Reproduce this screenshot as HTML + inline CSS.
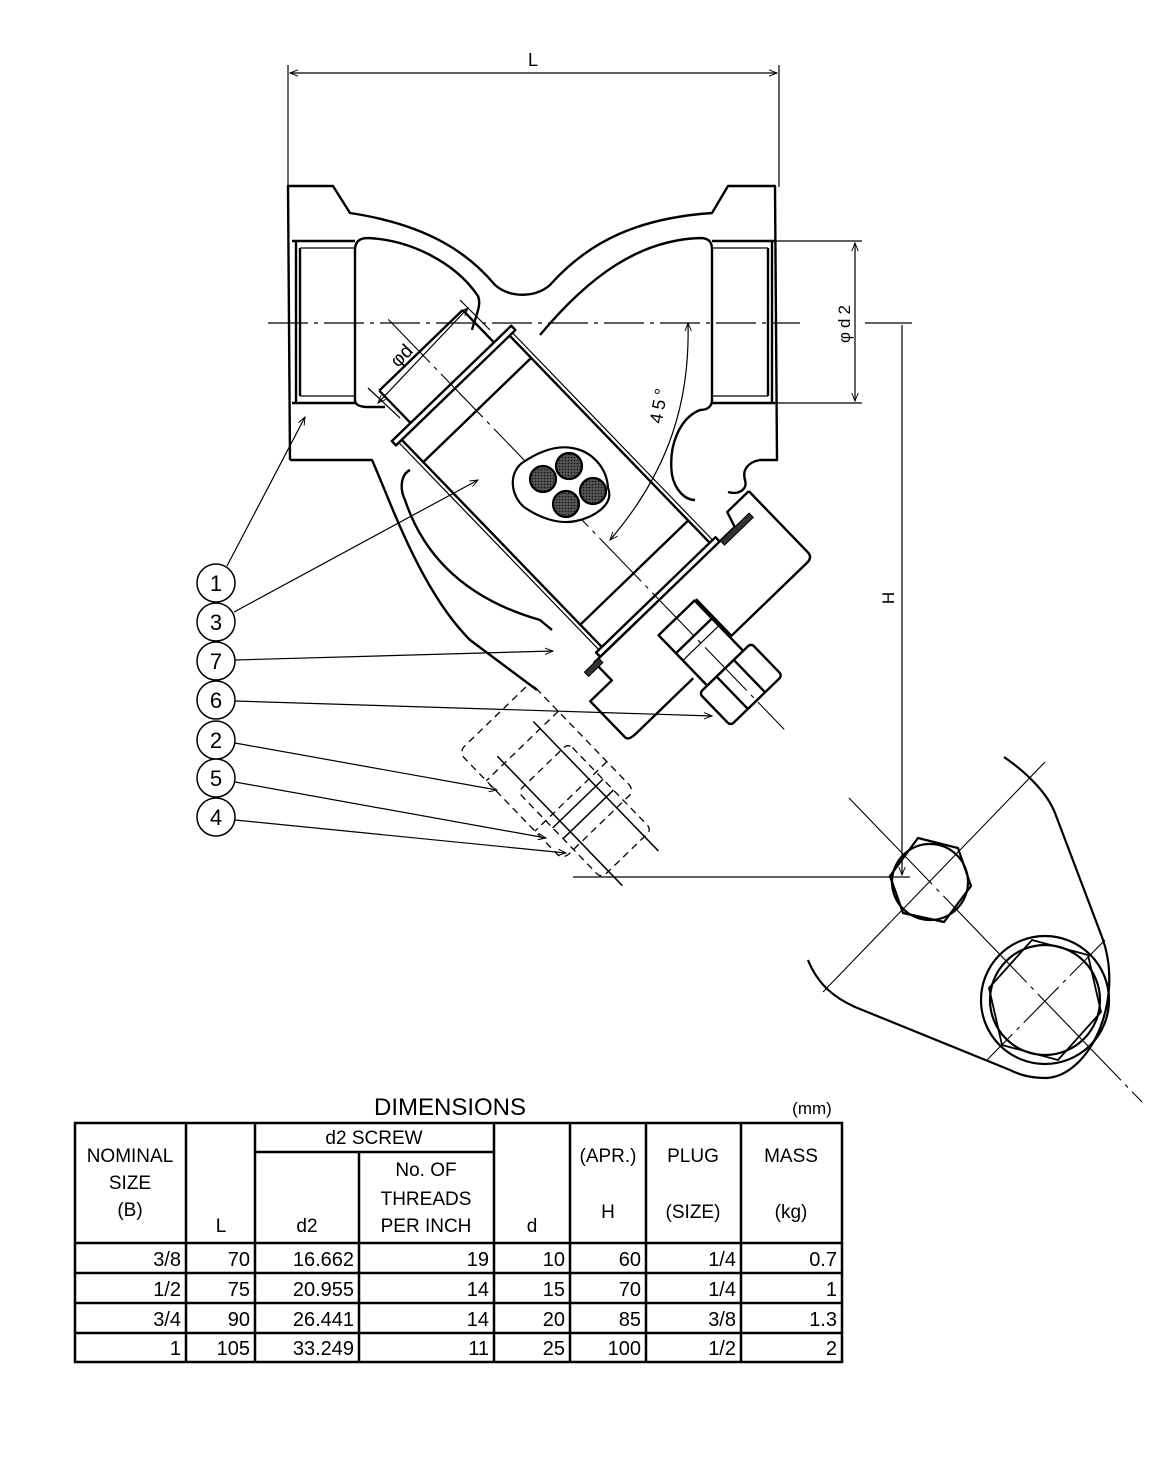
<!DOCTYPE html>
<html><head><meta charset="utf-8"><style>
body{margin:0;background:#fff;}
svg{display:block}
text{font-family:"Liberation Sans",sans-serif;fill:#000}
</style></head><body>
<svg width="1170" height="1484" viewBox="0 0 1170 1484" xmlns="http://www.w3.org/2000/svg">
<defs>
<marker id="a" viewBox="0 0 10 10" refX="10" refY="5" markerWidth="12" markerHeight="8" orient="auto-start-reverse" markerUnits="userSpaceOnUse"><path d="M0,1 L10,5 L0,9" fill="none" stroke="#000" stroke-width="1.2"/></marker>
<pattern id="dots" width="3" height="3" patternUnits="userSpaceOnUse"><rect width="3" height="3" fill="#555"/><circle cx="1.5" cy="1.5" r="0.8" fill="#111"/></pattern>
</defs>
<g fill="none" stroke="#000" stroke-width="1.2">
<line x1="288" y1="65" x2="288" y2="187"/><line x1="779" y1="65" x2="779" y2="187"/>
<line x1="290" y1="73" x2="777" y2="73" marker-start="url(#a)" marker-end="url(#a)"/>
<line x1="712" y1="241" x2="862" y2="241"/><line x1="712" y1="403" x2="862" y2="403"/>
<line x1="855" y1="243" x2="855" y2="401" marker-start="url(#a)" marker-end="url(#a)"/>
<line x1="865" y1="323" x2="912" y2="323"/>
<line x1="902" y1="325" x2="902" y2="875" marker-end="url(#a)"/>
<line x1="573" y1="877" x2="910" y2="877"/>
<line x1="268" y1="323" x2="800" y2="323" stroke-dasharray="40,6,4,6"/>
</g>
<g fill="none" stroke="#000" stroke-width="2.4" stroke-linejoin="round">
<path d="M290,460 L288,186 L333,186 L350,213 C430,225 470,255 495,285 C510,298 535,298 550,285 C590,240 640,218 712,213 L728,186 L775,186 L777,460 L760,460 C748,462 742,470 745,480 C748,490 738,495 728,492"/>
<path d="M290,460 L372,460 C390,500 420,590 470,640 L537,690"/>
<path d="M292,241 L355,241 M292,403 L355,403 M300,248 L300,396 M296,241 L296,403"/>
<path d="M712,241 L775,241 M712,403 L775,403 M768,248 L768,396 M772,241 L772,403"/>
<path d="M300,248 L355,248 M300,396 L355,396 M712,248 L768,248 M712,396 L768,396" stroke-width="1.2"/>
<path d="M472,330 C475,318 482,305 478,296 C455,262 410,240 368,238 C358,238 355,243 355,250 L355,400 C355,405 360,407 368,407 L385,407"/>
<path d="M540,335 C590,275 640,240 700,238 C710,238 712,243 712,250 L712,400 C712,406 708,410 700,410 C680,418 668,445 672,475 C675,490 685,500 695,500"/>
<path d="M410,470 C400,475 400,490 405,500 C425,560 470,600 540,620 L552,630"/>
</g>
<g transform="translate(555,492) rotate(46)" fill="none" stroke="#000" stroke-width="2.4" stroke-linejoin="round">
<rect x="-145" y="-76" width="290" height="150" fill="#fff"/>
<path d="M-195,-60 L-145,-60 M-195,56 L-145,56 M-195,-60 L-195,56"/>
<rect x="-150" y="-84" width="6" height="166" fill="#fff"/>
<rect x="144" y="-84" width="6" height="166" fill="#fff"/>
<line x1="-113" y1="-76" x2="-113" y2="74"/>
<line x1="113" y1="-76" x2="113" y2="74"/>
<line x1="-145" y1="-80" x2="145" y2="-80" stroke-width="1.2"/>
<line x1="-145" y1="78" x2="145" y2="78" stroke-width="1.2"/>
<path d="M134,-140 L219,-140 Q226,-140 226,-132 L226,-27 L175,-27 M134,-140 L134,-110 L150,-105 L150,-84" />
<rect x="150" y="-125" width="6" height="40" fill="#333" stroke-width="1"/>
<path d="M150,30 L150,90 L175,90 L175,120 L225,120 Q230,120 230,110 L230,30"/>
<rect x="150" y="84" width="6" height="20" fill="#333" stroke-width="1"/>
<rect x="175" y="-25" width="70" height="50" fill="#fff"/>
<line x1="200" y1="-25" x2="200" y2="25"/>
<line x1="210" y1="-25" x2="210" y2="25" stroke-width="1.2"/>
<rect x="245" y="-36" width="45" height="72" rx="4" fill="#fff"/>
<line x1="245" y1="-12" x2="290" y2="-12"/><line x1="245" y1="12" x2="290" y2="12"/>
<line x1="-240" y1="0" x2="330" y2="0" stroke-width="1.1" stroke-dasharray="60,6,4,6"/>
<g stroke-width="1.3" stroke-dasharray="7,5">
<rect x="120" y="150" width="150" height="100" rx="8"/>
<rect x="190" y="165" width="120" height="70" rx="6"/>
<line x1="160" y1="150" x2="160" y2="250"/>
<line x1="230" y1="150" x2="230" y2="250"/>
</g>
<g stroke-width="1.5">
<line x1="150" y1="175" x2="330" y2="175"/>
<line x1="150" y1="225" x2="330" y2="225"/>
<line x1="240" y1="165" x2="240" y2="235"/>
<line x1="255" y1="165" x2="255" y2="235"/>
</g>
</g>
<g stroke="#000" stroke-width="2.2">
<path d="M522,463 C538,452 555,445 572,448 C592,451 607,468 608,488 C615,505 592,518 576,521 C558,525 538,517 524,507 C511,496 508,474 522,463 Z" fill="#fff"/>
<circle cx="543" cy="479" r="13" fill="url(#dots)"/>
<circle cx="569" cy="466" r="13" fill="url(#dots)"/>
<circle cx="593" cy="491" r="13" fill="url(#dots)"/>
<circle cx="566" cy="504" r="13" fill="url(#dots)"/>
</g>
<g fill="none" stroke="#000" stroke-width="1.2">
<line x1="460" y1="300" x2="490" y2="330"/>
<line x1="368" y1="388" x2="400" y2="418"/>
<line x1="468" y1="308" x2="378" y2="403" marker-start="url(#a)" marker-end="url(#a)"/>
<path d="M688,323 C690,400 670,470 610,540" marker-start="url(#a)" marker-end="url(#a)"/>
</g>
<text transform="translate(406,360) rotate(-46)" font-size="19" text-anchor="middle" font-family="Liberation Serif">φd</text>
<text transform="translate(665,405) rotate(-80)" font-size="18" text-anchor="middle" letter-spacing="4">45°</text>
<text x="533" y="66" font-size="18" text-anchor="middle">L</text>
<text transform="translate(850,322) rotate(-90)" font-size="17" text-anchor="middle" letter-spacing="4" font-family="Liberation Serif">φd2</text>
<text transform="translate(894,598) rotate(-90)" font-size="17" text-anchor="middle">H</text>
<g fill="#fff" stroke="#000" stroke-width="1.5">
<circle cx="216" cy="583" r="19"/><circle cx="216" cy="622" r="19"/><circle cx="216" cy="661" r="19"/>
<circle cx="216" cy="700" r="19"/><circle cx="216" cy="740" r="19"/><circle cx="216" cy="778" r="19"/><circle cx="216" cy="817" r="19"/>
</g>
<g font-size="22" text-anchor="middle" font-family="Liberation Serif">
<text x="216" y="591">1</text><text x="216" y="630">3</text><text x="216" y="669">7</text><text x="216" y="708">6</text>
<text x="216" y="748">2</text><text x="216" y="786">5</text><text x="216" y="825">4</text>
</g>
<g fill="none" stroke="#000" stroke-width="1.2">
<line x1="227" y1="566" x2="305" y2="417" marker-end="url(#a)"/>
<line x1="234" y1="612" x2="478" y2="480" marker-end="url(#a)"/>
<line x1="235" y1="660" x2="553" y2="651" marker-end="url(#a)"/>
<line x1="235" y1="701" x2="712" y2="716" marker-end="url(#a)"/>
<line x1="235" y1="743" x2="497" y2="790" marker-end="url(#a)"/>
<line x1="235" y1="782" x2="546" y2="838" marker-end="url(#a)"/>
<line x1="235" y1="820" x2="566" y2="853" marker-end="url(#a)"/>
</g>
<g fill="none" stroke="#000" stroke-width="2.2">
<path d="M1004,757 C1030,775 1048,795 1055,813 L1102,937 C1125,1000 1090,1075 1047,1078 C1030,1078 1020,1075 1010,1070 L855,1007 C835,998 818,985 808,960"/>
<circle cx="930" cy="882" r="38"/>
<polygon points="918,838 958,848 971,886 944,922 903,913 890,876"/>
<circle cx="1045" cy="1000" r="64"/>
<circle cx="1045" cy="1000" r="55"/>
<polygon points="1032,940 1088,955 1101,1012 1058,1060 1002,1045 989,988" stroke-width="1.8"/>
</g>
<g fill="none" stroke="#000" stroke-width="1.1">
<line x1="849" y1="798" x2="1142" y2="1102" stroke-dasharray="120,6,4,6"/>
<line x1="1045" y1="762" x2="823" y2="992"/>
<line x1="1105" y1="940" x2="987" y2="1060" stroke-dasharray="50,6,4,6"/>
</g>
<text x="450" y="1115" font-size="24" text-anchor="middle">DIMENSIONS</text>
<text x="812" y="1114" font-size="17" text-anchor="middle" font-family="Liberation Serif">(mm)</text>
<g fill="none" stroke="#000" stroke-width="2.5">
<rect x="75" y="1123" width="767" height="239"/>
<path d="M186,1123V1362 M255,1123V1362 M359,1152V1362 M494,1123V1362 M570,1123V1362 M646,1123V1362 M741,1123V1362"/>
<path d="M255,1152H494 M75,1243H842 M75,1273H842 M75,1303H842 M75,1333H842"/>
</g>
<g font-size="19" text-anchor="middle">
<text x="130" y="1162">NOMINAL</text><text x="130" y="1189">SIZE</text><text x="130" y="1216">(B)</text>
<text x="221" y="1232">L</text>
<text x="374" y="1144">d2  SCREW</text>
<text x="307" y="1232">d2</text>
<text x="426" y="1176">No.  OF</text><text x="426" y="1205">THREADS</text><text x="426" y="1232">PER INCH</text>
<text x="532" y="1232">d</text>
<text x="608" y="1162">(APR.)</text><text x="608" y="1218">H</text>
<text x="693" y="1162">PLUG</text><text x="693" y="1218">(SIZE)</text>
<text x="791" y="1162">MASS</text><text x="791" y="1218">(kg)</text>
</g>
<g font-size="20" text-anchor="end">
<text x="181" y="1266">3/8</text><text x="250" y="1266">70</text><text x="354" y="1266">16.662</text><text x="489" y="1266">19</text><text x="565" y="1266">10</text><text x="641" y="1266">60</text><text x="736" y="1266">1/4</text><text x="837" y="1266">0.7</text>
<text x="181" y="1296">1/2</text><text x="250" y="1296">75</text><text x="354" y="1296">20.955</text><text x="489" y="1296">14</text><text x="565" y="1296">15</text><text x="641" y="1296">70</text><text x="736" y="1296">1/4</text><text x="837" y="1296">1</text>
<text x="181" y="1326">3/4</text><text x="250" y="1326">90</text><text x="354" y="1326">26.441</text><text x="489" y="1326">14</text><text x="565" y="1326">20</text><text x="641" y="1326">85</text><text x="736" y="1326">3/8</text><text x="837" y="1326">1.3</text>
<text x="181" y="1355">1</text><text x="250" y="1355">105</text><text x="354" y="1355">33.249</text><text x="489" y="1355">11</text><text x="565" y="1355">25</text><text x="641" y="1355">100</text><text x="736" y="1355">1/2</text><text x="837" y="1355">2</text>
</g>
</svg>
</body></html>
